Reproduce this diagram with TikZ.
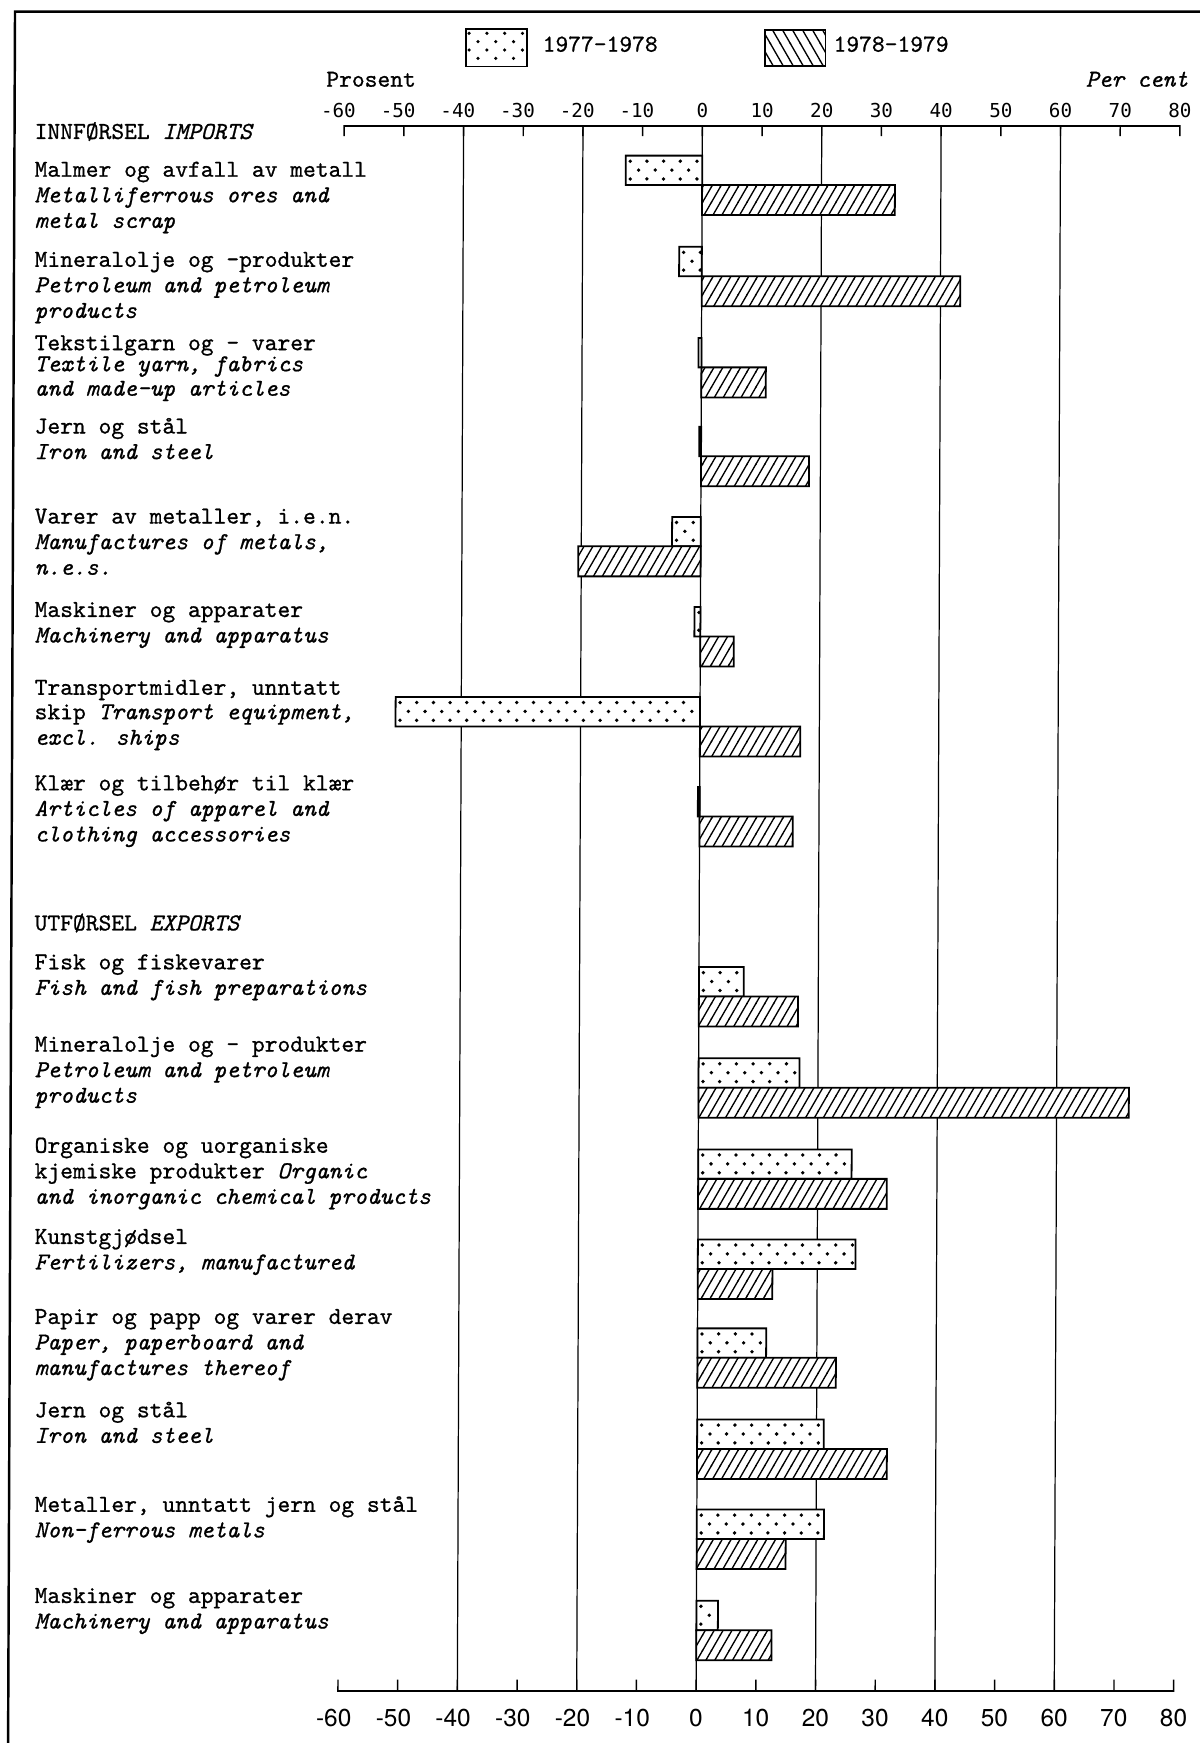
\documentclass[tikz,border=0pt]{standalone}
\usepackage{fontspec}
\newfontfamily\topnumfont{DejaVu Sans Mono}
\newfontfamily\botnumfont{TeX Gyre Heros}
\newfontfamily\twfont{lmmono10-regular.otf}[ItalicFont=lmmono10-italic.otf,UprightFeatures={FakeBold=0.8},ItalicFeatures={FakeBold=0.8}]
\usetikzlibrary{patterns}

\pgfdeclarepatternformonly{barhatch}{\pgfpoint{-1pt}{-1pt}}{\pgfpoint{9pt}{14.86pt}}{\pgfpoint{8pt}{13.86pt}}{%
  \pgfsetlinewidth{1.2pt}%
  \pgfpathmoveto{\pgfpoint{-0.3pt}{-0.52pt}}%
  \pgfpathlineto{\pgfpoint{8.3pt}{14.38pt}}%
  \pgfusepath{stroke}}
\pgfdeclarepatternformonly{leghatch}{\pgfpoint{-1pt}{-1pt}}{\pgfpoint{10pt}{16.6pt}}{\pgfpoint{9pt}{15.6pt}}{%
  \pgfsetlinewidth{1.2pt}%
  \pgfpathmoveto{\pgfpoint{-0.3pt}{16.1pt}}%
  \pgfpathlineto{\pgfpoint{9.3pt}{-0.5pt}}%
  \pgfusepath{stroke}}

\newcommand\V[1]{632.3+5.37*(#1)}
% dotted bar: x1 < x2 (pt), top y
\newcommand\dotbar[3]{%
  \fill[white] ({#1},{#3}) rectangle ({#2},{(#3)+26.5});
  \foreach \rr/\oo in {5/4,13/11.5,21/4}{%
    \pgfmathsetmacro\nn{int(floor(((#2)-(#1)-\oo-1)/15))}%
    \ifnum\nn<0\relax\else
      \foreach \kk in {0,...,\nn}{\fill ({(#1)+\oo+15*\kk},{(#3)+\rr}) circle[radius=1.7pt];}%
    \fi}%
  \draw[barline] ({#1},{#3}) rectangle ({#2},{(#3)+26.5});}
\newcommand\bars[3]{%
  \pgfmathsetmacro\xa{min(632.3,632.3+5.37*(#2))}%
  \pgfmathsetmacro\xb{max(632.3,632.3+5.37*(#2))}%
  \dotbar{\xa}{\xb}{#1}%
  \pgfmathsetmacro\xc{632.3+5.37*(#3)}%
  \draw[barline,preaction={fill=white},pattern=barhatch] (632.3,{#1+26.5}) rectangle (\xc,{#1+53.5});}

\begin{document}
\begin{tikzpicture}[x=1pt,y=-1pt,
  lab/.style={anchor=base west,inner sep=0pt,font=\fontsize{21.9}{23}\selectfont\twfont},
  labr/.style={anchor=base east,inner sep=0pt,font=\fontsize{21.9}{23}\selectfont\twfont},
  barline/.style={line width=1.6pt,line join=miter},
  gridline/.style={line width=1.1pt},
  axisline/.style={line width=1.9pt},
  tickline/.style={line width=1.3pt},
  frameline/.style={line width=2.2pt},
  topnum/.style={anchor=base,inner sep=0pt,font=\fontsize{17.3}{18}\selectfont\topnumfont},
  botnum/.style={anchor=base,inner sep=0pt,font=\fontsize{22}{24}\selectfont\botnumfont},
  legbox/.style={draw,line width=1.6pt,anchor=north west,inner sep=0pt}]
\useasboundingbox (0,0) rectangle (1079,1568);

% legend
\node[legbox,minimum width=54.5pt,minimum height=34pt] (leg1) at (418.5,25) {};
\foreach \rr in {30,45}{\foreach \kk in {0,...,3}{\fill (422+16*\kk,\rr) circle[radius=1.6pt];}}
\foreach \rr in {37.5,52.5}{\foreach \kk in {0,...,2}{\fill (430+16*\kk,\rr) circle[radius=1.6pt];}}
\node[lab] (leg1t) at (488,46.5) {1977-1978};
\node[legbox,pattern=leghatch,minimum width=54.3pt,minimum height=32.5pt] (leg2) at (687.5,26) {};
\node[lab] (leg2t) at (749.7,46.5) {1978-1979};

\node[lab] (pros) at (293.4,78) {Prosent};
\node[labr] (percent) at (1069,78) {\textit{Per cent}};

\begin{scope}[xslant=0.004]
  % frame
  \draw[frameline] (1090,10.5) -- (13.55,10.5) -- (13.55,1575);
  % grid
  \foreach \g in {-40,-20,...,60}{\draw[gridline] ({\V{\g}},113.4) -- ({\V{\g}},1521);}
  % top axis
  \draw[axisline] ({\V{-60}},113.4) -- ({\V{80}},113.4);
  \foreach \g in {-60,-50,...,80}{\draw[tickline] ({\V{\g}},112.5) -- ({\V{\g}},122.4);}
  \foreach \g/\t in {-60/\llap{-}60,-50/\llap{-}50,-40/\llap{-}40,-30/\llap{-}30,-20/\llap{-}20,-10/\llap{-}10,0/0,10/10,20/20,30/30,40/40,50/50,60/60,70/70,80/80}{%
    \node[topnum] (top\g) at ({\V{\g}},105.6) {\t};}
  % bottom axis
  \draw[axisline] ({\V{-60}},1521) -- ({\V{80}},1521);
  \foreach \g in {-60,-50,...,80}{\draw[tickline] ({\V{\g}},1522) -- ({\V{\g}},1511);}
  \foreach \g/\t in {-60/\llap{-}60,-50/\llap{-}50,-40/\llap{-}40,-30/\llap{-}30,-20/\llap{-}20,-10/\llap{-}10,0/0,10/10,20/20,30/30,40/40,50/50,60/60,70/70,80/80}{%
    \node[botnum] (bot\g) at ({\V{\g}},1553) {\t};}
  % bars
  \bars{140}{-12.8}{32.3}
  \bars{222}{-3.8}{43.3}
  \bars{304}{-0.5}{10.8}
  \bars{384}{-0.3}{18.1}
  \bars{465}{-4.8}{-20.5}
  \bars{546}{-1.0}{5.6}
  \bars{627}{-51.0}{16.8}
  \bars{708}{-0.3}{15.6}
  \bars{870}{7.5}{16.6}
  \bars{952}{16.9}{72.1}
  \bars{1034}{25.7}{31.6}
  \bars{1115}{26.4}{12.5}
  \bars{1195}{11.5}{23.2}
  \bars{1277}{21.2}{31.8}
  \bars{1358}{21.3}{14.9}
  \bars{1440}{3.6}{12.6}
\end{scope}

% labels
\node[lab] (imp) at (31,125) {INNFØRSEL \textit{IMPORTS}};
\node[lab] (a1) at (31,159) {Malmer og avfall av metall};
\node[lab] (a2) at (31,182) {\textit{Metalliferrous ores and}};
\node[lab] (a3) at (31,205) {\textit{metal scrap}};
\node[lab] (b1) at (31,240) {Mineralolje og -produkter};
\node[lab] (b2) at (31,263) {\textit{Petroleum and petroleum}};
\node[lab] (b3) at (31,286) {\textit{products}};
\node[lab] (c1) at (31,315) {Tekstilgarn og - varer};
\node[lab] (c2) at (31,334) {\textit{Textile yarn, fabrics}};
\node[lab] (c3) at (31,356) {\textit{and made-up articles}};
\node[lab] (d1) at (31,390) {Jern og stål};
\node[lab] (d2) at (31,413) {\textit{Iron and steel}};
\node[lab] (e1) at (31,471) {Varer av metaller, i.e.n.};
\node[lab] (e2) at (31,494) {\textit{Manufactures of metals,}};
\node[lab] (e3) at (31,517) {\textit{n.e.s.}};
\node[lab] (f1) at (31,555) {Maskiner og apparater};
\node[lab] (f2) at (31,578) {\textit{Machinery and apparatus}};
\node[lab] (g1) at (31,625) {Transportmidler, unntatt};
\node[lab] (g2) at (31,647) {skip \textit{Transport equipment,}};
\node[lab] (g3) at (31,670) {\textit{excl. ships}};
\node[lab] (h1) at (31,711) {Klær og tilbehør til klær};
\node[lab] (h2) at (31,734) {\textit{Articles of apparel and}};
\node[lab] (h3) at (31,757) {\textit{clothing accessories}};
\node[lab] (exp) at (31,837) {UTFØRSEL \textit{EXPORTS}};
\node[lab] (i1) at (31,872) {Fisk og fiskevarer};
\node[lab] (i2) at (31,895) {\textit{Fish and fish preparations}};
\node[lab] (j1) at (31,946) {Mineralolje og - produkter};
\node[lab] (j2) at (31,969) {\textit{Petroleum and petroleum}};
\node[lab] (j3) at (31,992) {\textit{products}};
\node[lab] (k1) at (31,1037) {Organiske og uorganiske};
\node[lab] (k2) at (31,1060) {kjemiske produkter \textit{Organic}};
\node[lab] (k3) at (31,1083) {\textit{and inorganic chemical products}};
\node[lab] (l1) at (31,1119) {Kunstgjødsel};
\node[lab] (l2) at (31,1142) {\textit{Fertilizers, manufactured}};
\node[lab] (m1) at (31,1191) {Papir og papp og varer derav};
\node[lab] (m2) at (31,1214) {\textit{Paper, paperboard and}};
\node[lab] (m3) at (31,1237) {\textit{manufactures thereof}};
\node[lab] (n1) at (31,1275) {Jern og stål};
\node[lab] (n2) at (31,1298) {\textit{Iron and steel}};
\node[lab] (o1) at (31,1360) {Metaller, unntatt jern og stål};
\node[lab] (o2) at (31,1383) {\textit{Non-ferrous metals}};
\node[lab] (p1) at (31,1442) {Maskiner og apparater};
\node[lab] (p2) at (31,1465) {\textit{Machinery and apparatus}};
\end{tikzpicture}
\end{document}
